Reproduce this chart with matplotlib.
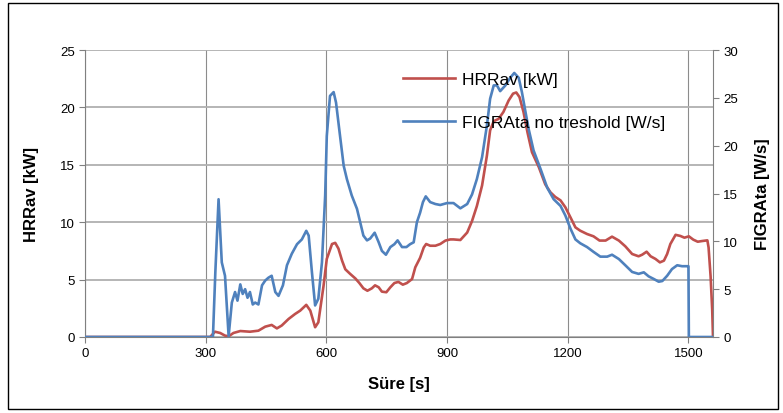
import matplotlib
matplotlib.use("Agg")
import matplotlib.pyplot as plt
from matplotlib.patches import Rectangle

plt.rcParams['font.family'] = ['Liberation Sans', 'DejaVu Sans']

# ---- data ----
hrr_t = [0, 311, 323, 336, 348, 357, 369, 386, 410, 431, 448, 464, 477, 489, 506, 522, 535, 550, 560, 572,
         580, 593, 601, 614, 622, 630, 639, 647, 659, 672, 682, 692, 702, 713, 721, 730, 738, 749, 759, 769,
         779, 790, 800, 813, 821, 833, 842, 848, 858, 871, 883, 896, 908, 916, 933, 950, 962, 974, 987, 999,
         1007, 1016, 1028, 1040, 1053, 1064, 1072, 1080, 1090, 1100, 1111, 1128, 1144, 1157, 1169, 1182,
         1194, 1207, 1219, 1231, 1248, 1264, 1279, 1294, 1310, 1327, 1343, 1360, 1376, 1385, 1396, 1406,
         1418, 1429, 1439, 1447, 1455, 1468, 1480, 1490, 1501, 1512, 1523, 1534, 1547, 1550, 1555, 1559, 1561]
hrr_v = [0, 0, 0.46, 0.35, 0.12, 0.06, 0.35, 0.52, 0.46, 0.55, 0.9, 1.05, 0.75, 1.0, 1.57, 2.0, 2.3, 2.8, 2.3, 0.85,
         1.28, 4.47, 6.8, 8.1, 8.2, 7.7, 6.65, 5.9, 5.5, 5.1, 4.7, 4.24, 4.03, 4.24, 4.5, 4.33, 3.95, 3.9, 4.33, 4.7,
         4.8, 4.56, 4.7, 5.05, 6.07, 6.9, 7.8, 8.1, 7.95, 7.95, 8.1, 8.4, 8.5, 8.5, 8.45, 9.1, 10.1, 11.4, 13.2, 15.8,
         18.0, 18.8, 19.0, 19.6, 20.6, 21.2, 21.3, 20.9, 19.6, 17.8, 16.1, 14.8, 13.3, 12.6, 12.2, 11.9,
         11.3, 10.4, 9.55, 9.26, 8.97, 8.77, 8.4, 8.4, 8.74, 8.4, 7.9, 7.23, 7.03, 7.17, 7.43, 7.03,
         6.8, 6.5, 6.65, 7.23, 8.1, 8.9, 8.8, 8.65, 8.77, 8.48, 8.3, 8.36, 8.42, 7.8, 5.3, 2.4, 0]

figra_t = [0, 318, 324, 332, 340, 348, 357, 365, 373, 379, 386, 392, 398, 404, 410, 417, 423, 431, 440, 448,
           456, 464, 473, 481, 492, 502, 514, 527, 539, 550, 556, 564, 572, 580, 589, 597, 601, 609, 618, 624,
           634, 643, 651, 663, 676, 684, 692, 701, 709, 720, 730, 738, 748, 759, 769, 777, 788, 799, 808, 817,
           825, 833, 840, 847, 858, 871, 883, 900, 916, 933, 950, 962, 974, 987, 999, 1007, 1016, 1024, 1032,
           1045, 1057, 1067, 1078, 1086, 1095, 1103, 1115, 1132, 1149, 1165, 1182, 1194, 1207, 1219, 1231,
           1248, 1264, 1281, 1298, 1310, 1327, 1343, 1360, 1376, 1389, 1401, 1414, 1426, 1435, 1447, 1459,
           1472, 1484, 1497, 1500, 1501, 1561]
figra_v = [0, 0, 6.8, 14.4, 7.8, 6.4, 0.1, 3.6, 4.7, 3.8, 5.5, 4.5, 5.0, 4.1, 4.7, 3.4, 3.6, 3.4, 5.4, 5.9,
           6.2, 6.4, 4.7, 4.3, 5.4, 7.5, 8.7, 9.7, 10.2, 11.1, 10.6, 6.8, 3.3, 4.0, 7.8, 14.8, 21.0, 25.2, 25.6, 24.5,
           21.0, 17.9, 16.5, 14.8, 13.4, 12.0, 10.6, 10.1, 10.3, 10.9, 9.9, 9.0, 8.6, 9.4, 9.7, 10.1, 9.4, 9.4, 9.7, 9.9,
           12.0, 13.0, 14.1, 14.7, 14.1, 13.9, 13.8, 14.0, 14.0, 13.45, 13.9, 14.9, 16.5, 18.8, 22.1, 24.9, 26.3, 26.3, 25.7,
           26.3, 27.1, 27.6, 27.1, 25.6, 23.5, 21.7, 19.5, 17.6, 15.6, 14.4, 13.7, 12.7, 11.3, 10.2, 9.8,
           9.4, 8.9, 8.4, 8.4, 8.6, 8.15, 7.5, 6.8, 6.6, 6.76, 6.34, 6.06, 5.78, 5.85, 6.4, 7.1,
           7.5, 7.4, 7.4, 7.4, 0, 0]

x_ticks = [0, 300, 600, 900, 1200, 1500]
left_ticks = [0, 5, 10, 15, 20, 25]
right_ticks = [0, 5, 10, 15, 20, 25, 30]

RED = '#C0504D'
BLUE = '#4F81BD'

fig = plt.figure(figsize=(7.83, 4.14), dpi=100)
fig.patches.append(Rectangle((8 / 783, 4 / 414), 770 / 783, 406 / 414, transform=fig.transFigure,
                             fill=False, edgecolor='black', linewidth=1.0))
ax = fig.add_axes([85 / 783, (414 - 338) / 414, 628 / 783, 287 / 414])
ax2 = ax.twinx()

l1, = ax.plot(hrr_t, hrr_v, color=RED, linewidth=1.9, label='HRRav [kW]')
l2, = ax2.plot(figra_t, figra_v, color=BLUE, linewidth=1.9, label='FIGRAta no treshold [W/s]')

ax.set_xlim(0, 1561)
ax.set_ylim(0, 25)
ax2.set_ylim(0, 30)
ax.set_xticks(x_ticks)
ax.set_yticks(left_ticks)
ax2.set_yticks(right_ticks)

ax.grid(True, axis='y', color='#b0b0b0', linewidth=1.3)
ax.grid(True, axis='x', color='#8c8c8c', linewidth=0.8)
ax.set_axisbelow(True)

for a in (ax, ax2):
    a.spines['top'].set_visible(False)
    a.tick_params(colors='#808080', labelcolor='black', labelsize=9.5, length=4, width=0.8, direction='out')
ax.spines['right'].set_visible(False)
ax2.spines['left'].set_visible(False)
ax2.spines['bottom'].set_visible(False)
for s in ('left', 'bottom'):
    ax.spines[s].set_color('#808080')
ax2.spines['right'].set_color('#808080')

ax.set_ylabel('HRRav [kW]', fontsize=12, fontweight='bold', labelpad=15)
ax2.set_ylabel('FIGRAta [W/s]', fontsize=12, fontweight='bold', labelpad=12)
ax.set_xlabel('Süre [s]', fontsize=12, fontweight='bold', labelpad=12)

leg = ax2.legend([l1, l2], ['HRRav [kW]', 'FIGRAta no treshold [W/s]'], loc='upper left',
                 bbox_to_anchor=(387 / 783, 357 / 414), bbox_transform=fig.transFigure,
                 frameon=False, fontsize=12.5, labelspacing=1.6, handlelength=3.0, handletextpad=0.4)

fig.savefig('out.png', dpi=100)
